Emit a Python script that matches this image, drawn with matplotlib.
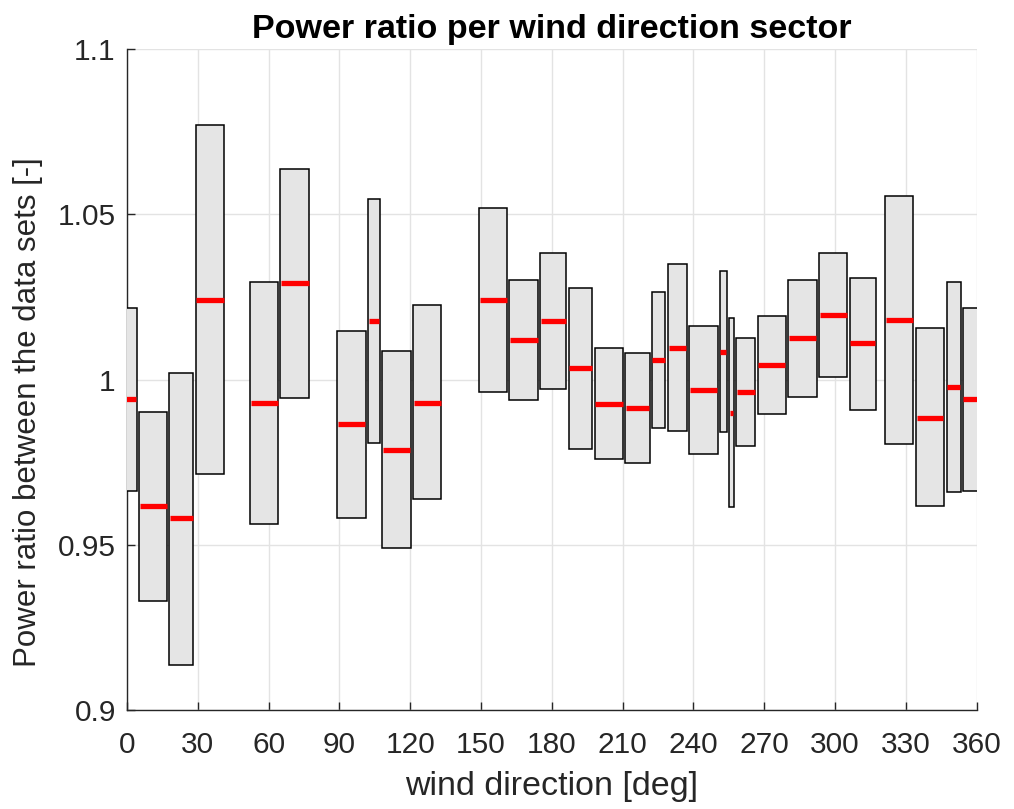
import matplotlib
matplotlib.use("Agg")
import matplotlib.pyplot as plt
from matplotlib.patches import Rectangle

plt.rcParams['font.family'] = ['Liberation Sans', 'DejaVu Sans']

# Sector statistics of the power ratio (one entry per wind direction sector)
sector_center = [-0.9, 11.2, 23.0, 35.2, 58.1, 71.1, 95.2, 104.7, 114.2, 127.2,
                 155.2, 168.2, 180.7, 192.2, 204.2, 216.3, 225.2, 233.2, 244.2,
                 252.6, 256.2, 262.2, 273.2, 286.2, 299.2, 311.7, 327.2, 340.2,
                 350.2, 359.1]
box_width = [10.0, 11.9, 10.2, 12.1, 12.0, 12.3, 12.0, 5.0, 12.0, 12.1,
             12.0, 12.3, 11.0, 10.0, 12.0, 10.2, 5.9, 8.0, 12.0,
             3.1, 2.0, 8.0, 12.0, 12.0, 12.0, 11.0, 12.0, 11.8,
             5.9, 10.0]
ratio_low = [0.9662, 0.9329, 0.9137, 0.9714, 0.9563, 0.9944, 0.9581, 0.9809, 0.9490, 0.9638,
             0.9962, 0.9938, 0.9972, 0.9790, 0.9758, 0.9748, 0.9854, 0.9845, 0.9774,
             0.9840, 0.9613, 0.9800, 0.9895, 0.9948, 1.0008, 0.9909, 0.9804, 0.9616,
             0.9660, 0.9662]
ratio_median = [0.9940, 0.9616, 0.9580, 1.0242, 0.9930, 1.0292, 0.9865, 1.0178, 0.9788, 0.9930,
                1.0241, 1.0120, 1.0177, 1.0034, 0.9927, 0.9913, 1.0059, 1.0096, 0.9968,
                1.0083, 0.9899, 0.9963, 1.0043, 1.0125, 1.0195, 1.0109, 1.0179, 0.9885,
                0.9978, 0.9940]
ratio_high = [1.0215, 0.9902, 1.0021, 1.0770, 1.0295, 1.0638, 1.0148, 1.0546, 1.0085, 1.0224,
              1.0519, 1.0301, 1.0382, 1.0277, 1.0096, 1.0079, 1.0265, 1.0348, 1.0161,
              1.0328, 1.0185, 1.0125, 1.0192, 1.0301, 1.0383, 1.0307, 1.0554, 1.0155,
              1.0295, 1.0215]

x_ticks = list(range(0, 361, 30))
y_ticks = [0.9, 0.95, 1.0, 1.05, 1.1]
y_tick_labels = ['0.9', '0.95', '1', '1.05', '1.1']

fig = plt.figure(figsize=(10.14, 8.09), dpi=100)
ax = fig.add_axes([0.1252, 0.1224, 0.9632 - 0.1252, 0.9394 - 0.1224])

for c, w, lo, med, hi in zip(sector_center, box_width, ratio_low, ratio_median, ratio_high):
    ax.add_patch(Rectangle((c - w / 2, lo), w, hi - lo, facecolor='#e5e5e5',
                           edgecolor='black', linewidth=1.1, zorder=3))
    ax.plot([c - w / 2 + 0.25, c + w / 2 - 0.25], [med, med], color='#ff0000',
            linewidth=3.8, solid_capstyle='butt', zorder=4)

ax.set_xlim(0, 360)
ax.set_ylim(0.9, 1.1)
ax.set_xticks(x_ticks)
ax.set_yticks(y_ticks)
ax.set_yticklabels(y_tick_labels)
ax.grid(True, color='#e3e3e3', linewidth=1.0, zorder=0)
ax.set_axisbelow(True)
for side in ('top', 'right'):
    ax.spines[side].set_visible(False)
for side in ('left', 'bottom'):
    ax.spines[side].set_color('#262626')
    ax.spines[side].set_linewidth(1.0)
ax.tick_params(direction='in', length=6, width=1.0, color='#262626',
               labelsize=21.5, labelcolor='#262626')
ax.tick_params(axis='x', pad=15)
ax.tick_params(axis='y', pad=8)

ax.set_title('Power ratio per wind direction sector', fontsize=24.5,
             fontweight='bold', pad=8)
ax.set_xlabel('wind direction [deg]', fontsize=24.5, color='#262626', labelpad=9)
ax.set_ylabel('Power ratio between the data sets [-]', fontsize=22.5,
              color='#262626')
ax.yaxis.set_label_coords(-0.099, 0.45)

fig.savefig('out.png', dpi=100)
